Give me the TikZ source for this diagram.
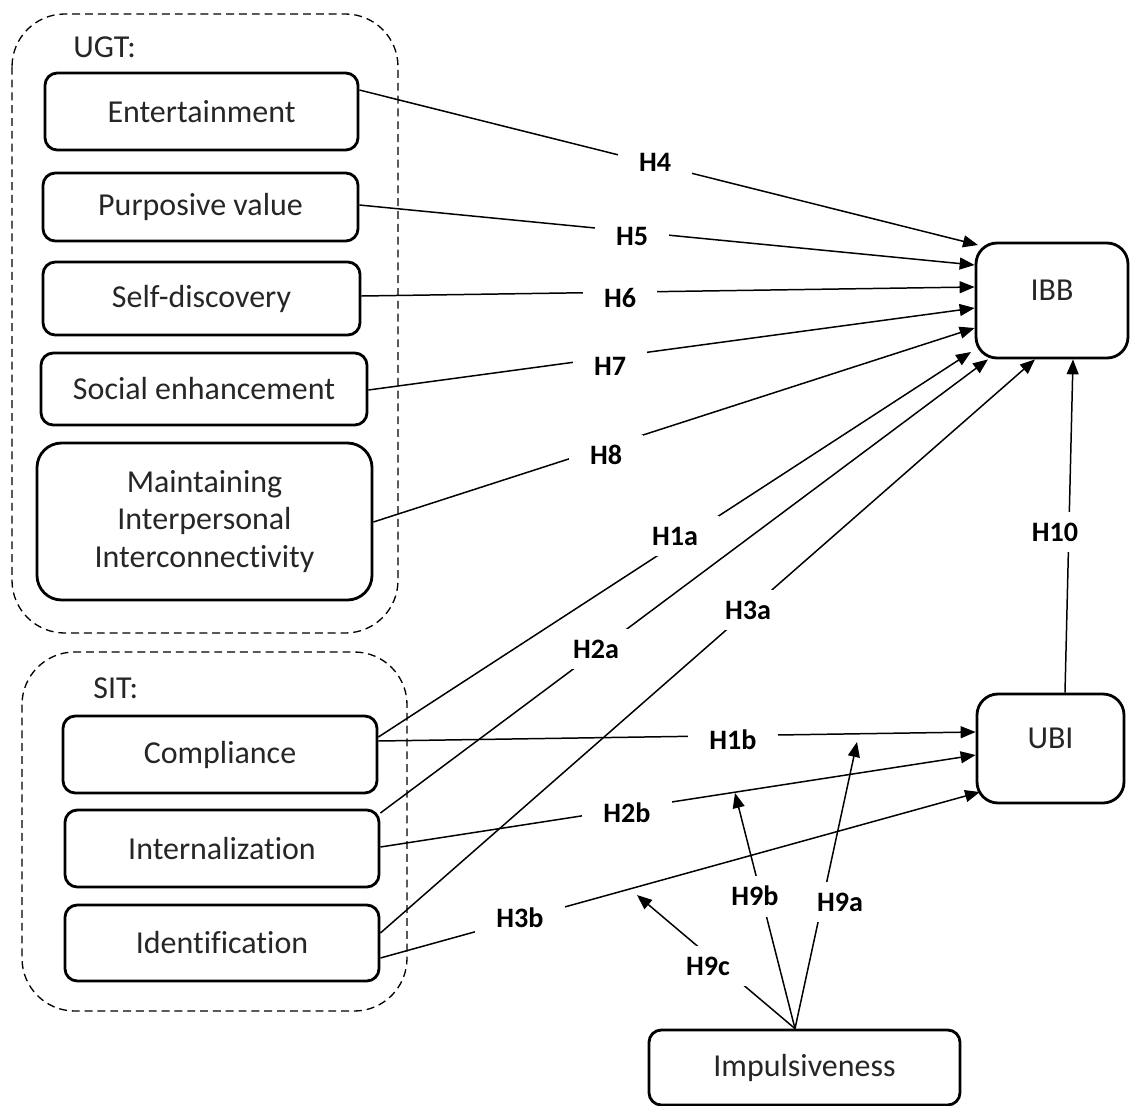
\documentclass[tikz,border=0pt]{standalone}
\usepackage{fontspec}
\setmainfont{Carlito}[Ligatures={NoCommon}]
\usetikzlibrary{arrows.meta,calc}
\begin{document}
\begin{tikzpicture}[x=0.02cm,y=-0.02cm,
  wh/.style 2 args={minimum width=#1*0.02cm,minimum height=#2*0.02cm},
  box/.style={draw,line width=1.6pt,rounded corners=7pt,inner sep=0pt,align=center,
    text=black!85,font=\fontsize{18.2}{21.5}\selectfont},
  grp/.style={draw,line width=0.75pt,dash pattern=on 4.5pt off 2.8pt,rounded corners=30pt},
  grptitle/.style={anchor=west,inner sep=0pt,text=black!85,font=\fontsize{18.2}{20}\selectfont},
  conn/.style={line width=0.85pt,-{Triangle[length=8.5pt,width=6.8pt]}},
  lab/.style={fill=white,inner xsep=12pt,inner ysep=6pt,font=\bfseries\fontsize{16}{18}\selectfont}]
\useasboundingbox (0,0) rectangle (1130,1106);

% group frames
\draw[grp] (12,14) rectangle (398,633);
\draw[grp] (22,652) rectangle (407,1011);
\node[grptitle] (ugt) at (73,47) {UGT:};
\node[grptitle] (sit) at (93,688) {SIT:};

% UGT boxes
\node[box,wh={313}{77}] (ent) at (201.5,111.5) {Entertainment};
\node[box,wh={315}{68}] (pur) at (200.5,207) {Purposive value};
\node[box,wh={317}{73}] (sel) at (201.5,298.5) {Self-discovery};
\node[box,wh={326}{72}] (soc) at (204,389) {Social enhancement};
\node[box,wh={335}{157},rounded corners=14pt] (mai) at (204.5,521.5) {Maintaining\\Interpersonal\\Interconnectivity};

% SIT boxes
\node[box,wh={314}{77}] (com) at (220,754.5) {Compliance};
\node[box,wh={314}{77}] (int) at (222,848.5) {Internalization};
\node[box,wh={314}{76}] (ide) at (222,943) {Identification};

% outcome boxes
\node[box,wh={152}{115},rounded corners=12pt,text depth=12pt] (ibb) at (1052,300.5) {IBB};
\node[box,wh={147}{109},rounded corners=12pt,text depth=12pt] (ubi) at (1050.5,748.5) {UBI};
\node[box,wh={311}{75}] (imp) at (804.5,1067.5) {Impulsiveness};

% moderation targets
\coordinate (t9a) at (857,742);
\coordinate (t9b) at (735,793);
\coordinate (t9c) at (637,895);

% connectors
\draw[conn] (ent.east |- 0,90) -- (978,245);
\draw[conn] (pur.east |- 0,205) -- (ibb.west |- 0,265);
\draw[conn] (sel.east |- 0,296) -- (ibb.west |- 0,287);
\draw[conn] (soc.east |- 0,390) -- (ibb.west |- 0,308);
\draw[conn] (mai.east |- 0,522) -- (ibb.west |- 0,328);
\draw[conn] (com.east |- 0,737) -- (971,352);
\draw[conn] (int.east |- 0,813) -- (988,0 |- ibb.south);
\draw[conn] (ide.east |- 0,933) -- (1035,0 |- ibb.south);
\draw[conn] (1065,0 |- ubi.north) -- (1073,0 |- ibb.south);
\draw[conn] (com.east |- 0,741) -- (ubi.west |- 0,732);
\draw[conn] (int.east |- 0,847) -- (ubi.west |- 0,755);
\draw[conn] (ide.east |- 0,958) -- (980,792);
\draw[conn] (795,0 |- imp.north) -- (t9a);
\draw[conn] (795,0 |- imp.north) -- (t9b);
\draw[conn] (795,0 |- imp.north) -- (t9c);

% labels
\node[lab] (h4) at (655,162) {H4};
\node[lab] (h5) at (632,236) {H5};
\node[lab] (h6) at (620,298) {H6};
\node[lab] (h7) at (610,366) {H7};
\node[lab] (h8) at (606,455) {H8};
\node[lab] (h1a) at (675,536) {H1a};
\node[lab] (h2a) at (596,649) {H2a};
\node[lab] (h3a) at (748,610) {H3a};
\node[lab] (h10) at (1055,532) {H10};
\node[lab] (h1b) at (733,740) {H1b};
\node[lab] (h2b) at (627,813) {H2b};
\node[lab] (h3b) at (520,918) {H3b};
\node[lab] (h9a) at (840,902) {H9a};
\node[lab] (h9b) at (755,896) {H9b};
\node[lab] (h9c) at (708,966) {H9c};
\end{tikzpicture}
\end{document}
